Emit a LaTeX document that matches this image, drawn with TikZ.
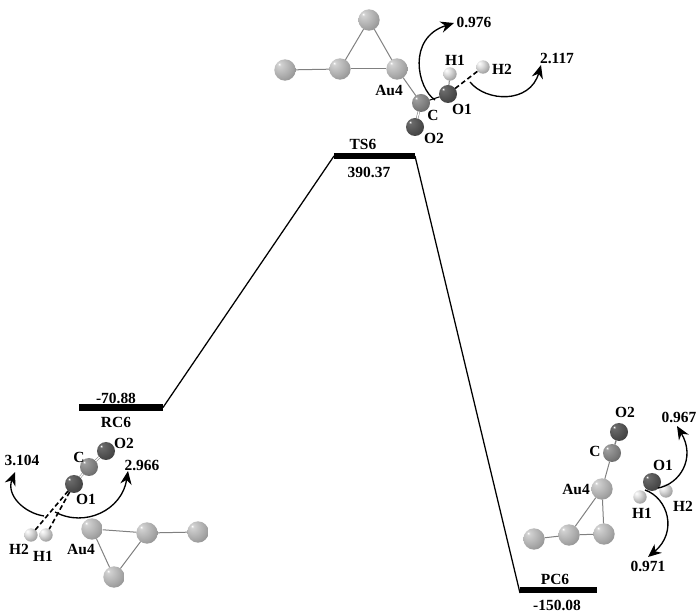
\documentclass[tikz,border=0pt]{standalone}
\usepackage{fontspec}
\setmainfont{Liberation Serif}
\usetikzlibrary{arrows.meta}
\pgfdeclareradialshading{auball}{\pgfqpoint{-14bp}{14bp}}{color(0bp)=(white); color(4bp)=(black!18); color(26bp)=(black!34); color(46bp)=(black!50); color(64bp)=(black!68); color(80bp)=(black!78)}
\pgfdeclareradialshading{cball}{\pgfqpoint{-14bp}{14bp}}{color(0bp)=(white); color(4bp)=(black!38); color(26bp)=(black!52); color(46bp)=(black!66); color(64bp)=(black!80); color(80bp)=(black!88)}
\pgfdeclareradialshading{oball}{\pgfqpoint{-14bp}{14bp}}{color(0bp)=(white); color(4bp)=(black!58); color(26bp)=(black!70); color(46bp)=(black!80); color(64bp)=(black!92); color(80bp)=(black!96)}
\pgfdeclareradialshading{hball}{\pgfqpoint{-14bp}{14bp}}{color(0bp)=(white); color(14bp)=(black!14); color(32bp)=(black!36); color(50bp)=(black!60); color(66bp)=(black!78); color(80bp)=(black!85)}
\tikzset{
	lbl/.style={inner sep=0.75pt,font=\fontsize{11.6}{13}\bfseries},
	atom/.style={circle,inner sep=0pt,outer sep=0pt},
	au/.style={atom,shading=auball,minimum size=16pt},
	carbon/.style={atom,shading=cball,minimum size=13.5pt},
	oxy/.style={atom,shading=oball,minimum size=13.5pt},
	hyd/.style={atom,shading=hball,minimum size=10pt},
	level/.style={fill=black,inner sep=0pt,outer sep=0pt,minimum height=4.6pt},
	path/.style={line width=0.95pt},
	bond/.style={draw=black!50,line width=0.75pt},
	dbond/.style={draw=black,line width=1.2pt,dash pattern=on 3.6pt off 2.2pt},
	charge/.style={line width=1pt,-{Stealth[length=10pt,width=8.5pt]}},
}
\begin{document}
\begin{tikzpicture}[x=0.75pt,y=0.75pt,yscale=-1,xscale=1]
	\useasboundingbox (0,0) rectangle (700,616);

	% Levels
	\node [level,minimum width=63pt] (rcbar) at (121,407.5) {};
	\node [level,minimum width=60.75pt] (tsbar) at (374.5,156) {};
	\node [level,minimum width=57.75pt] (pcbar) at (558.5,590) {};
	\draw [path] (rcbar.east) -- (tsbar.west);
	\draw [path] (tsbar.east) -- (pcbar.south west);

	% Text Node
	\node [lbl] (rcval) at (116,398) {-70.88};
	\node [lbl] (rcname) at (116,422) {RC6};
	\node [lbl] (tsname) at (363,144) {TS6};
	\node [lbl] (tsval) at (369,172) {390.37};
	\node [lbl] (pcname) at (555,579) {PC6};
	\node [lbl] (pcval) at (557,605) {-150.08};

	% TS6 atoms
	\node [au] (tsa) at (369,20) {};
	\node [au] (tsb) at (285,70) {};
	\node [au] (tsc) at (340,69) {};
	\node [au] (tsd) at (397,69) {};
	\node [carbon] (tse) at (421,103) {};
	\node [oxy] (tsf) at (448,94) {};
	\node [oxy] (tsg) at (415,127) {};
	\node [hyd] (tsh) at (450,74) {};
	\node [hyd] (tsi) at (483,67) {};
	\draw [bond] (tsa) -- (tsc);
	\draw [bond] (tsa) -- (tsd);
	\draw [bond] (tsb) -- (tsc);
	\draw [bond] (tsc) -- (tsd);
	\draw [bond] (tsd) -- (tse);
	\draw [bond,draw=black] (tse) -- (tsf);
	\draw [bond,double,double distance=1pt,line width=0.4pt] (tse) -- (tsg);
	\draw [bond] (tsf) -- (tsh);
	\draw [dbond] (tsf) -- (tsi);

	% TS6 labels
	\node [lbl] at (474,22) (tsq) {0.976};
	\node [lbl] at (557,58) (tsr) {2.117};
	\node [lbl] at (455,60) (tss) {H1};
	\node [lbl] at (502,69) (tst) {H2};
	\node [lbl] at (389,90) (tsu) {Au4};
	\node [lbl] at (433,115) (tsv) {C};
	\node [lbl] at (462,109) (tsw) {O1};
	\node [lbl] at (434,138) (tsx) {O2};

	\coordinate (tsp) at (435,100);
	\coordinate (tspe) at (454,23);
	\coordinate (tsm) at (470,82);
	\coordinate (tsme) at (541,65);
	\draw [charge] (tsp) .. controls (417,88) and (407,38) .. (tspe);
	\draw [charge] (tsm) .. controls (486,102) and (530,104) .. (tsme);

	% RC6 atoms
	\node [oxy] (rca) at (106,451) {};
	\node [carbon] (rcb) at (89,467) {};
	\node [oxy] (rcc) at (74,484) {};
	\node [hyd] (rcd) at (31,535) {};
	\node [hyd] (rce) at (46,535) {};
	\node [au] (rcf) at (92,529) {};
	\node [au] (rcg) at (147,533) {};
	\node [au] (rch) at (198,532) {};
	\node [au] (rci) at (114,577) {};
	\draw [bond,double,double distance=1pt,line width=0.4pt] (rca) -- (rcb);
	\draw [bond,double,double distance=1pt,line width=0.4pt] (rcb) -- (rcc);
	\draw [dbond] (rcc) -- (rcd);
	\draw [dbond] (rcc) -- (rce);
	\draw [bond] (rcf) -- (rcg);
	\draw [bond] (rcg) -- (rch);
	\draw [bond] (rcf) -- (rci);
	\draw [bond] (rcg) -- (rci);

	% RC6 labels
	\node [lbl] at (124,443) (rcj) {O2};
	\node [lbl] at (79,457) (rck) {C};
	\node [lbl] at (22,460) (rcl) {3.104};
	\node [lbl] at (142,465) (rcm) {2.966};
	\node [lbl] at (86,499) (rcn) {O1};
	\node [lbl] at (19,549) (rco) {H2};
	\node [lbl] at (43,556) (rcp) {H1};
	\node [lbl] at (81,549) (rcq) {Au4};

	\coordinate (rcs) at (44,516);
	\coordinate (rcse) at (15,472);
	\coordinate (rct) at (55,512);
	\coordinate (rcte) at (128,471);
	\draw [charge] (rcs) .. controls (24,513) and (6,495) .. (rcse);
	\draw [charge] (rct) .. controls (85,528) and (122,510) .. (rcte);

	% PC6 atoms
	\node [oxy] (pca) at (619,432) {};
	\node [carbon] (pcb) at (612,453) {};
	\node [au] (pcc) at (602,489) {};
	\node [au] (pcd) at (534,539) {};
	\node [au] (pce) at (569,535) {};
	\node [au] (pcf) at (604,534) {};
	\node [oxy] (pcg) at (652,482) {};
	\node [hyd] (pch) at (640,497) {};
	\node [hyd] (pci) at (666,491) {};
	\draw [bond,line width=1pt] (pca) -- (pcb);
	\draw [bond] (pcb) -- (pcc);
	\draw [bond] (pcc) -- (pce);
	\draw [bond] (pcc) -- (pcf);
	\draw [bond] (pcd) -- (pce);
	\draw [bond] (pce) -- (pcf);

	% PC6 labels
	\node [lbl] at (625,412) (pcj) {O2};
	\node [lbl] at (595,451) (pck) {C};
	\node [lbl] at (576,489) (pcl) {Au4};
	\node [lbl] at (663,465) (pcm) {O1};
	\node [lbl] at (679,417) (pcn) {0.967};
	\node [lbl] at (683,506) (pco) {H2};
	\node [lbl] at (642,513) (pcp) {H1};
	\node [lbl] at (648,566) (pcq) {0.971};

	\coordinate (pcs) at (658,488);
	\coordinate (pcse) at (677,426);
	\coordinate (pct) at (645,490);
	\coordinate (pcte) at (648,557);
	\draw [charge] (pcs) .. controls (680,484) and (696,458) .. (pcse);
	\draw [charge] (pct) .. controls (668,498) and (678,532) .. (pcte);
\end{tikzpicture}
\end{document}
